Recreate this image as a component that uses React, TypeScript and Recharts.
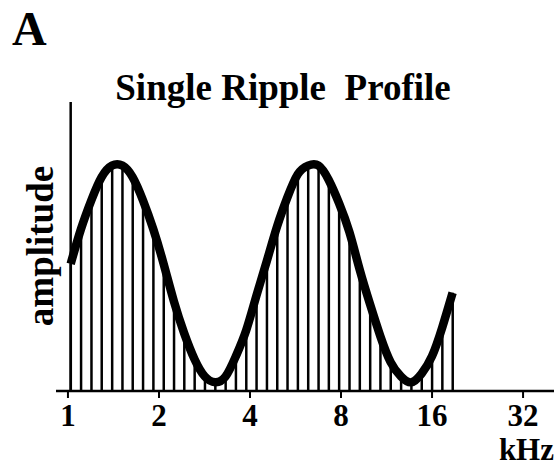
import React from 'react';
import { ComposedChart, Bar, Line, XAxis, YAxis, ReferenceLine } from 'recharts';

// ripple component frequencies (kHz), log-spaced
const frequencies = [
  1.021, 1.104, 1.195, 1.292, 1.399, 1.513, 1.636, 1.77, 1.915, 2.072,
  2.241, 2.423, 2.622, 2.836, 3.069, 3.32, 3.59, 3.885, 4.201, 4.547,
  4.918, 5.318, 5.755, 6.225, 6.736, 7.285, 7.879, 8.526, 9.222, 9.98,
  10.79, 11.67, 12.63, 13.66, 14.78, 15.99, 17.29, 18.71,
];

// amplitude of each component (relative, axis top = 1)
const amplitudes = [
  0.44, 0.56, 0.66, 0.74, 0.78, 0.78, 0.74, 0.66, 0.56, 0.44,
  0.31, 0.2, 0.11, 0.05, 0.03, 0.05, 0.12, 0.21, 0.33, 0.45,
  0.57, 0.67, 0.75, 0.78, 0.78, 0.73, 0.65, 0.55, 0.42, 0.3,
  0.19, 0.1, 0.05, 0.03, 0.06, 0.12, 0.22, 0.34,
];

const xTicks = [1, 2, 4, 8, 16, 32];
const xDomain = [0.913, 40.5];
const yAxisAt = 1.021;
const panelLetter = 'A';
const title = 'Single Ripple  Profile';
const yLabel = 'amplitude';
const xUnit = 'kHz';

const data = frequencies.map((f, i) => ({ f, a: amplitudes[i] }));

const FONT = "'Liberation Serif', 'Times New Roman', Times, serif";

export default function App() {
  return (
    <div style={{ position: 'absolute', left: 0, top: 0, width: 559, height: 467, background: '#fff' }}>
      <ComposedChart
        width={559}
        height={467}
        data={data}
        margin={{ top: 102, right: 5, bottom: 0, left: 56 }}
      >
        <XAxis
          dataKey="f"
          type="number"
          scale="log"
          domain={xDomain}
          allowDataOverflow
          ticks={xTicks}
          interval={0}
          height={76}
          tickSize={7}
          tickMargin={6}
          axisLine={{ stroke: '#000', strokeWidth: 2.5 }}
          tickLine={{ stroke: '#000', strokeWidth: 2 }}
          tick={{ fill: '#000', fontSize: 31, fontWeight: 700, fontFamily: FONT }}
          label={(props: any) => {
            const vb = props.viewBox;
            return (
              <text
                x={vb.x + vb.width}
                y={vb.y + 69}
                textAnchor="end"
                fill="#000"
                fontSize={31}
                fontWeight={700}
                fontFamily={FONT}
              >
                {xUnit}
              </text>
            );
          }}
        />
        <YAxis type="number" domain={[0, 1]} hide />
        <ReferenceLine x={yAxisAt} stroke="#000" strokeWidth={2.5} ifOverflow="extendDomain" />
        <Bar dataKey="a" fill="#000" barSize={2.5} isAnimationActive={false} />
        <Line
          dataKey="a"
          type="natural"
          stroke="#000"
          strokeWidth={8.5}
          dot={false}
          activeDot={false}
          isAnimationActive={false}
        />
      </ComposedChart>
      <svg
        width={559}
        height={467}
        style={{ position: 'absolute', left: 0, top: 0, pointerEvents: 'none' }}
      >
        <text x={12} y={45} fontSize={48} fontWeight={700} fontFamily={FONT} fill="#000">
          {panelLetter}
        </text>
        <text
          x={283}
          y={100}
          textAnchor="middle"
          fontSize={37}
          fontWeight={700}
          fontFamily={FONT}
          fill="#000"
          style={{ whiteSpace: 'pre' }}
        >
          {title}
        </text>
        <text
          x={53}
          y={246}
          transform="rotate(-90 53 246)"
          textAnchor="middle"
          fontSize={37}
          fontWeight={700}
          fontFamily={FONT}
          fill="#000"
        >
          {yLabel}
        </text>
      </svg>
    </div>
  );
}
